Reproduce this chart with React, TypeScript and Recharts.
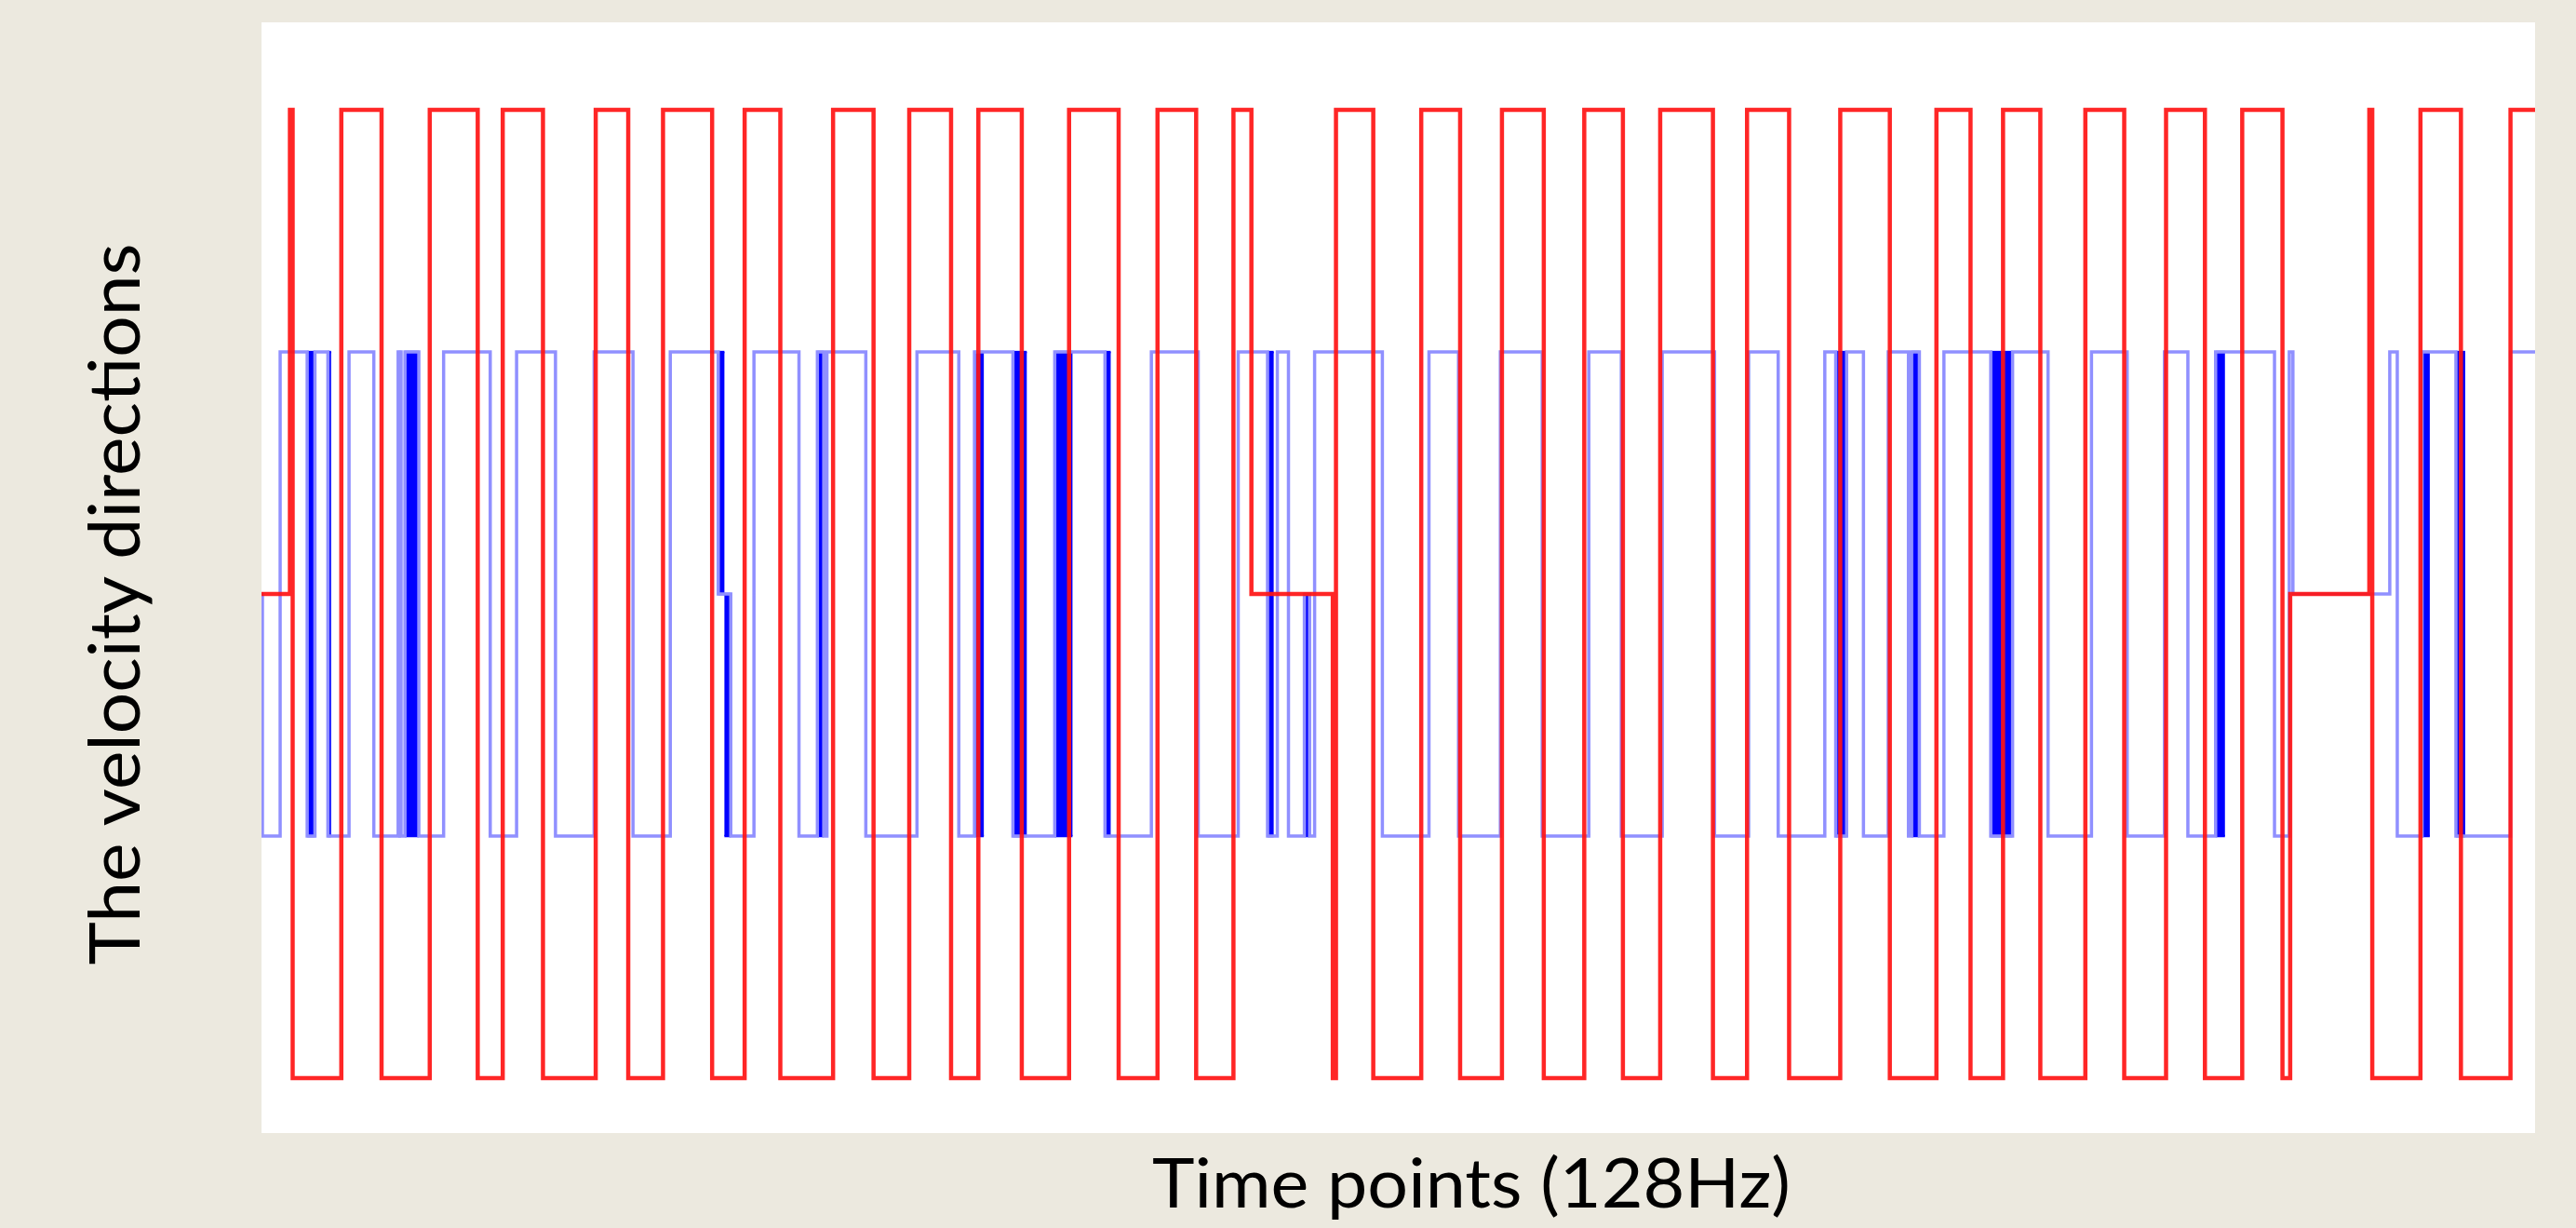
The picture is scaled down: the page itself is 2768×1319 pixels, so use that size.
import { ComposedChart, Line, Area, XAxis, YAxis, CartesianGrid } from 'recharts';

// red signal: time point where the level changes, and the new level
const redTimes = [
  0, 12.5, 13.7, 35.1, 52.8, 74.0, 95.1, 106.1, 123.8, 147.0,
  161.3, 176.6, 198.2, 212.5, 228.2, 251.4, 269.2, 284.9, 303.3, 315.3,
  334.4, 355.2, 377.0, 394.1, 411.1, 427.5, 435.4, 471.2, 472.6, 489.0,
  510.1, 527.2, 545.6, 564.0, 581.8, 598.8, 615.2, 638.4, 653.4, 671.9,
  694.4, 716.2, 736.7, 751.7, 766.0, 782.4, 802.2, 819.3, 837.7, 854.8,
  871.2, 888.9, 892.3, 927.1, 928.4, 949.6, 967.4, 989.2, 1000,
];
const redValues = [
  0, 2, -2, 2, -2, 2, -2, 2, -2, 2,
  -2, 2, -2, 2, -2, 2, -2, 2, -2, 2,
  -2, 2, -2, 2, -2, 2, 0, -2, 2, -2,
  2, -2, 2, -2, 2, -2, 2, -2, 2, -2,
  2, -2, 2, -2, 2, -2, 2, -2, 2, -2,
  2, -2, 0, 2, -2, 2, -2, 2, 2,
];

// blue signal
const blueTimes = [
  0, 0.4, 8.2, 20.1, 23.5, 29.2, 38.5, 49.4, 60.1, 61.4,
  63.1, 69.2, 80.1, 100.6, 112.2, 129.3, 146.3, 163.4, 179.8, 200.9,
  206.4, 216.6, 236.4, 244.5, 247.3, 248.7, 265.8, 288.3, 306.7, 313.6,
  330.5, 348.9, 371.0, 391.4, 412.0, 429.6, 442.5, 446.8, 451.7, 458.7,
  461.0, 463.2, 493.0, 513.5, 526.5, 544.9, 563.3, 583.8, 598.1, 616.1,
  639.1, 654.1, 667.1, 687.6, 692.4, 697.2, 704.6, 715.5, 724.4, 725.8,
  729.2, 740.0, 760.6, 770.2, 785.8, 804.9, 820.6, 837.0, 847.3, 859.5,
  885.4, 891.9, 893.5, 936.1, 939.4, 950.3, 965.2, 989.2, 1000,
];
const blueValues = [
  0, -1, 1, -1, 1, -1, 1, -1, 1, -1,
  1, -1, 1, -1, 1, -1, 1, -1, 1, 0,
  -1, 1, -1, 1, -1, 1, -1, 1, -1, 1,
  -1, 1, -1, 1, -1, 1, -1, 1, -1, 0,
  -1, 1, -1, 1, -1, 1, -1, 1, -1, 1,
  -1, 1, -1, 1, -1, 1, -1, 1, -1, 1,
  -1, 1, -1, 1, -1, 1, -1, 1, -1, 1,
  -1, 1, 0, 1, -1, 1, -1, 1, 1,
];

// bursts of rapid blue switching (drawn as dense bands)
const burstStart = [20.1, 29.2, 60.1, 63.1, 200.9, 203.6, 244.5, 313.6, 330.5, 348.9, 371.0, 442.5, 458.7, 692.4, 725.8, 760.6, 859.5, 950.3, 965.2];
const burstEnd = [23.5, 30.6, 61.4, 69.2, 203.6, 206.4, 247.3, 317.7, 336.6, 356.7, 373.5, 445.2, 461.0, 697.2, 729.2, 770.2, 863.6, 953.7, 969.3];
const burstLow = [-1, -1, -1, -1, 0, -1, -1, -1, -1, -1, -1, -1, -1, -1, -1, -1, -1, -1, -1];
const burstHigh = [1, 1, 1, 1, 1, 0, 1, 1, 1, 1, 1, 1, 0, 1, 1, 1, 1, 1, 1];

const redData = redTimes.map((t, i) => ({ t, v: redValues[i] }));
const blueData = blueTimes.map((t, i) => ({ t, v: blueValues[i] }));
const bursts = burstStart.map((s, i) => [
  { t: s, band: [burstLow[i], burstHigh[i]] },
  { t: burstEnd[i], band: [burstLow[i], burstHigh[i]] },
]);

const App = () => {
  return (
    <div style={{ position: 'absolute', left: 0, top: 0, width: 2768, height: 1319, background: '#ECE9DF' }}>
      <ComposedChart
        width={2768}
        height={1319}
        margin={{ top: 24, right: 44, bottom: 102, left: 281 }}
      >
        <CartesianGrid fill="#ffffff" stroke="none" horizontal={false} vertical={false} />
        <XAxis type="number" dataKey="t" domain={[0, 1000]} hide allowDataOverflow />
        <YAxis type="number" domain={[-2.227, 2.362]} hide allowDataOverflow />
        <Line
          data={blueData}
          dataKey="v"
          type="stepAfter"
          stroke="#9090ff"
          strokeWidth={3.5}
          dot={false}
          activeDot={false}
          isAnimationActive={false}
        />
        {bursts.map((b, i) => (
          <Area
            key={i}
            data={b}
            dataKey="band"
            type="linear"
            stroke="#0000ff"
            strokeWidth={2.5}
            fill="#0000ff"
            fillOpacity={1}
            dot={false}
            activeDot={false}
            isAnimationActive={false}
          />
        ))}
        <Line
          data={redData}
          dataKey="v"
          type="stepAfter"
          stroke="#ff1414"
          strokeWidth={4.5}
          strokeOpacity={0.92}
          dot={false}
          activeDot={false}
          isAnimationActive={false}
        />
      </ComposedChart>
      <svg width={2768} height={1319} style={{ position: 'absolute', left: 0, top: 0, pointerEvents: 'none' }}>
        <text
          x={1581}
          y={1297}
          textAnchor="middle"
          fontFamily="Lato"
          fontSize={74}
          textLength={686}
          lengthAdjust="spacingAndGlyphs"
          fill="#000"
        >
          Time points (128Hz)
        </text>
        <text
          x={0}
          y={0}
          transform="translate(150, 649) rotate(-90)"
          textAnchor="middle"
          fontFamily="Lato"
          fontSize={76}
          textLength={775}
          lengthAdjust="spacingAndGlyphs"
          fill="#000"
        >
          The velocity directions
        </text>
      </svg>
    </div>
  );
};

export default App;
